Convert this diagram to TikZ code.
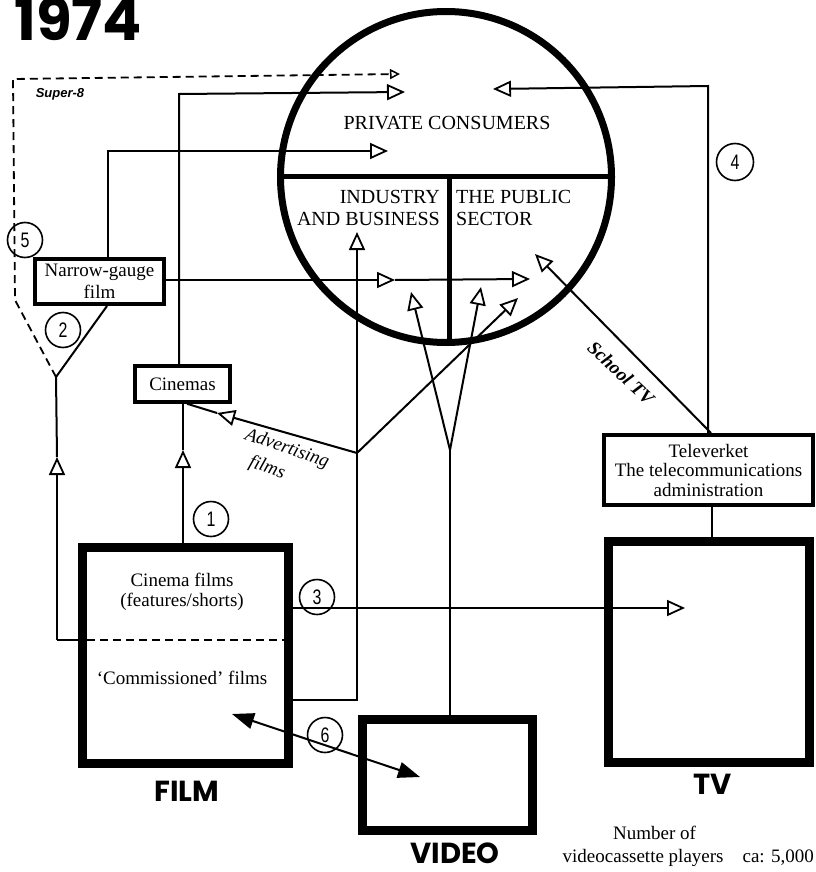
\documentclass[tikz,border=0pt]{standalone}
\usepackage{fontspec}
\setmainfont{Liberation Serif}
\newfontfamily\heavy{Poppins}
\newfontfamily\numfont{Liberation Sans}[FakeStretch=0.76]
\newfontfamily\sansit{Liberation Sans}
\newfontfamily\serifit{Liberation Serif Italic}
\usetikzlibrary{arrows.meta}
\tikzset{
  conn/.style={line width=2pt},
  otip/.style={-{Triangle[fill=white,length=18pt,width=16pt,line width=1.8pt]}},
  stip/.style={-{Triangle[fill=white,length=10pt,width=10pt,line width=1.5pt]}},
  ftip/.style={{Triangle[length=22pt,width=16pt]}-{Triangle[length=22pt,width=16pt]}},
  dash8/.style={line width=1.8pt, dash pattern=on 8pt off 5pt},
  bigbox/.style={draw, line width=9pt, inner sep=0pt},
  smallbox/.style={draw, line width=4pt, inner sep=0pt, align=center, font=\fontsize{19}{22}\selectfont},
  numc/.style={circle, draw, line width=1.6pt, minimum size=35pt, inner sep=0pt, font=\numfont\fontsize{21}{21}\selectfont},
  lbl/.style={font=\fontsize{19}{20}\selectfont, inner sep=0pt, align=center},
  itl/.style={font=\serifit\fontsize{19}{20}\selectfont, inner sep=0pt},
  caps/.style={font=\fontsize{20}{22.5}\selectfont, inner sep=0pt},
  heading/.style={font=\heavy\bfseries\fontsize{29}{29}\selectfont, inner sep=0pt},
}
\begin{document}
\begin{tikzpicture}[x=1pt,y=-1pt]
\useasboundingbox (0,0) rectangle (815,872);

% title
\node[font=\heavy\bfseries\fontsize{58}{58}\selectfont, inner sep=0pt, anchor=base west] (yr) at (14,41) {1974};

% circle of consumers
\node[draw, circle, line width=7pt, minimum size=331pt, inner sep=0pt] (circ) at (446,177) {};
\coordinate (dl) at (279,176); \coordinate (dr) at (613,176);
\coordinate (dt) at (449,176); \coordinate (db) at (449,341);
\draw[line width=5pt] (dl) -- (dr);
\draw[line width=5pt] (dt) -- (db);
\node[caps] (pc) at (447,123) {PRIVATE CONSUMERS};
\node[caps, align=right, anchor=east] (ib) at (440,208) {INDUSTRY\\AND BUSINESS};
\node[caps, align=left, anchor=west] (ps) at (456,208) {THE PUBLIC\\SECTOR};

% boxes
\node[bigbox, minimum width=206pt, minimum height=216pt] (film) at (185.5,655.5) {};
\node[bigbox, minimum width=170pt, minimum height=111pt] (video) at (447.5,775) {};
\node[bigbox, minimum width=201pt, minimum height=221pt] (tv) at (709,652) {};
\node[smallbox, minimum width=129pt, minimum height=45pt] (ng) at (99.5,281.5) {Narrow-gauge\\film};
\node[smallbox, line width=3.5pt, minimum width=95pt, minimum height=36pt] (cin) at (182.5,384) {Cinemas};
\node[smallbox, minimum width=209pt, minimum height=70pt, font=\fontsize{19}{19.5}\selectfont] (tvk) at (708.5,470) {Televerket\\The telecommunications\\administration};

% film box contents
\coordinate (fdl) at (87,640); \coordinate (fdr) at (284,640);
\draw[dash8] (fdl) -- (fdr);
\node[lbl] (cf) at (182,592) {Cinema films\\(features/shorts)};
\node[lbl] (cm) at (182,678) {‘Commissioned’ films};

% big labels
\node[heading] (filmlbl) at (187,791) {FILM};
\node[heading] (videolbl) at (455,853) {VIDEO};
\node[heading] (tvlbl) at (713,784) {TV};

% Super-8 dashed route
\coordinate (s8tip) at (400,74);
\coordinate (s8c) at (13,79);
\coordinate (s8b) at (15,300);
\coordinate (apex) at (56,377);
\coordinate (up1) at (57,457);
\coordinate (fl) at (57,640);
\draw[dash8, stip] (apex) -- (s8b) -- (s8c) -- (s8tip);
\node[font=\sansit\bfseries\itshape\fontsize{13}{13}\selectfont, inner sep=0pt] (s8) at (60,94) {Super-8};

% narrow-gauge feed
\draw[conn] (fl) -- (film.west |- fl);
\draw[conn, otip] (fl) -- (up1);
\draw[conn] (up1) -- (apex) -- ([xshift=7.5pt]ng.south);

\coordinate (ngTip) at (388,151);
\draw[conn, otip] ([xshift=8.5pt]ng.north) |- (ngTip);
\coordinate (ngMid) at (395,280); \coordinate (ngEnd) at (530,279);
\draw[conn, otip] (ng.east |- ngMid) -- (ngMid);
\draw[conn, otip] (ngMid) -- (ngEnd);

% cinemas
\coordinate (cinC) at (179,94); \coordinate (cinTip) at (405,92);
\draw[conn, otip] ([xshift=-3.5pt]cin.north) -- (cinC) -- (cinTip);
\coordinate (up2) at (183,450);
\draw[conn, otip] (film.north -| up2) -- (up2);
\draw[conn] (up2) -- (cin.south -| up2);

% advertising films
\coordinate (advS) at (187,404); \coordinate (advM) at (217,413);
\coordinate (advJ) at (357,453); \coordinate (advTip) at (518,298);
\draw[conn, otip] (advJ) -- (advM);
\draw[conn] (advM) -- (cin.south -| advS);
\draw[conn, otip] (advJ) -- (advTip);
\node[itl, rotate=-19] (adv1) at (287,449) {Advertising};
\node[itl, rotate=-19] (adv2) at (267,468) {films};

% commissioned films to industry
\coordinate (ibTip) at (357,232); \coordinate (cmC) at (357,700);
\draw[conn, line width=2.3pt, otip] (film.east |- cmC) -- (cmC) -- (ibTip);

% film to TV
\coordinate (tvTip) at (685,608);
\draw[conn, otip] (film.east |- tvTip) -- (tvTip);

% video
\coordinate (vJ) at (450,450); \coordinate (vL) at (411,292); \coordinate (vR) at (481,287);
\draw[conn] (video.north -| vJ) -- (vJ);
\draw[conn, otip] (vJ) -- (vL);
\draw[conn, otip] (vJ) -- (vR);

% televerket
\coordinate (t4C) at (708,86); \coordinate (t4Tip) at (493,89);
\draw[conn, otip] (tvk.north -| t4C) -- (t4C) -- (t4Tip);
\coordinate (schS) at (711,433); \coordinate (schTip) at (535,254);
\draw[conn, otip] (tvk.north -| schS) -- (schTip);
\node[itl, rotate=-43, font=\serifit\bfseries\fontsize{19}{20}\selectfont] (sch) at (621,373) {School TV};
\coordinate (tvkB) at (712,507);
\draw[conn] (tvk.south -| tvkB) -- (tv.north -| tvkB);

% film <-> video
\coordinate (a6L) at (232,714); \coordinate (a6R) at (420,777);
\draw[conn, ftip] (a6L) -- (a6R);

% circled numbers
\node[numc] (n1) at (211,519) {1};
\node[numc] (n2) at (63,330) {2};
\node[numc] (n3) at (317,597) {3};
\node[numc, minimum size=37pt] (n4) at (735,162) {4};
\node[numc] (n5) at (25,240) {5};
\node[numc] (n6) at (325,735) {6};

% footnote
\node[lbl, anchor=west] (nv1) at (613,833) {Number of};
\node[lbl, anchor=east] (nv2) at (814,858) {videocassette players\quad ca: 5,000};
\end{tikzpicture}
\end{document}
